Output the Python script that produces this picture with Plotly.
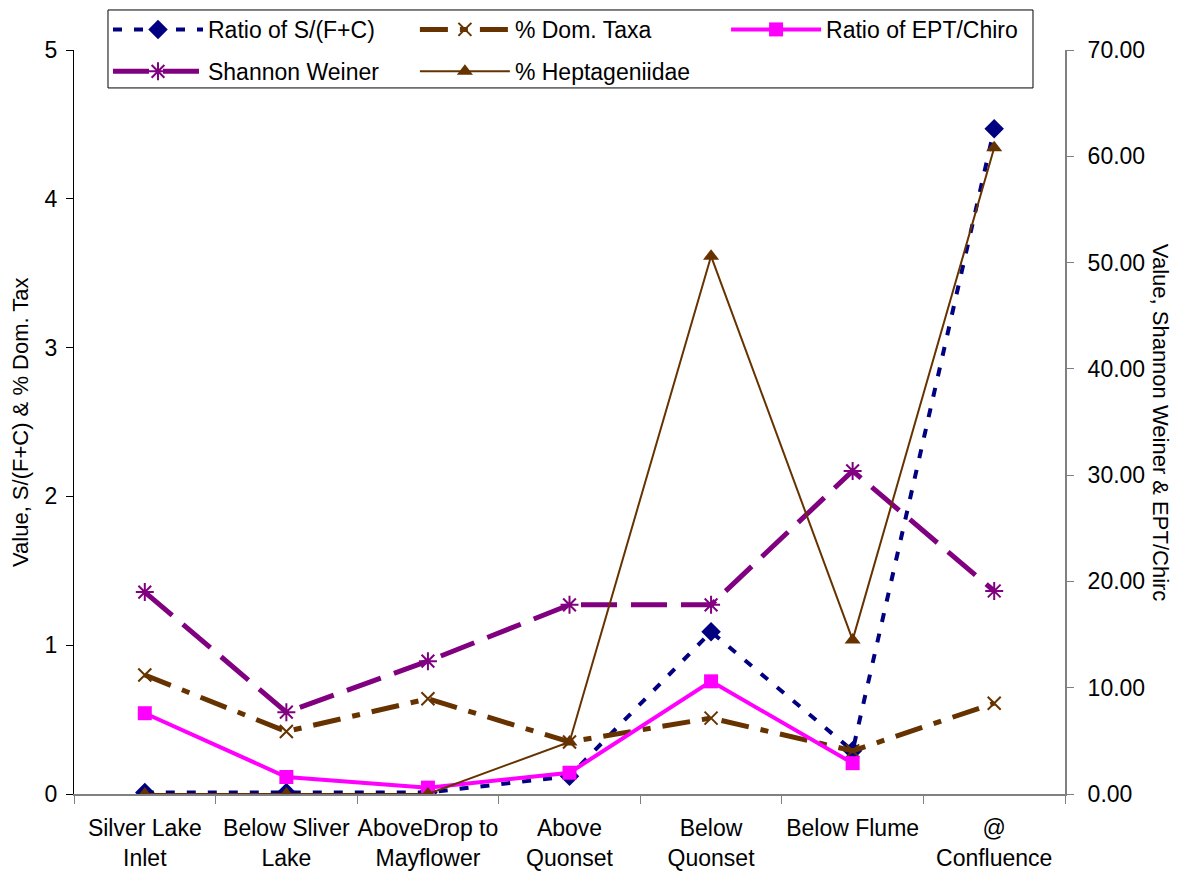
import plotly.graph_objects as go

# Sampling sites along the creek
sites = ["Silver Lake<br>Inlet", "Below Sliver<br>Lake", "AboveDrop to<br>Mayflower",
         "Above<br>Quonset", "Below<br>Quonset", "Below Flume", "@<br>Confluence"]

# Left-axis metrics
ratio_sfc = [0.01, 0.01, 0.01, 0.12, 1.09, 0.29, 4.47]
dom_taxa = [0.80, 0.42, 0.64, 0.35, 0.51, 0.29, 0.61]

# Right-axis metrics
ept_chiro = [7.6, 1.6, 0.6, 2.0, 10.6, 2.9, None]
shannon = [19.0, 7.7, 12.5, 17.8, 17.8, 30.4, 19.1]
heptageniidae = [0.0, 0.0, 0.0, 4.9, 50.6, 14.5, 60.8]

FONT = "Liberation Sans, Arial, sans-serif"
FS = 23
BROWN = "#663300"

fig = go.Figure()

fig.add_trace(go.Scatter(
    x=sites, y=ratio_sfc, name="Ratio of S/(F+C)", mode="lines+markers",
    line=dict(color="#000080", width=4, dash="9px,12px"),
    marker=dict(symbol="diamond", size=15, color="#000080"),
    yaxis="y", legend="legend", legendgroup="a", legendrank=1))

fig.add_trace(go.Scatter(
    x=sites, y=dom_taxa, name="% Dom. Taxa", mode="lines+markers",
    line=dict(color=BROWN, width=5, dash="28px,12px,8px,12px"),
    marker=dict(symbol="x-thin", size=13, color=BROWN,
                line=dict(color=BROWN, width=2)),
    yaxis="y", legend="legend2", legendgroup="b", legendrank=1))

fig.add_trace(go.Scatter(
    x=sites, y=ept_chiro, name="Ratio of EPT/Chiro", mode="lines+markers",
    line=dict(color="#FF00FF", width=4),
    marker=dict(symbol="square", size=14, color="#FF00FF"),
    yaxis="y2", legend="legend3", legendgroup="c", legendrank=1))

fig.add_trace(go.Scatter(
    x=sites, y=shannon, name="Shannon Weiner", mode="lines+markers",
    line=dict(color="#800080", width=5, dash="36px,14px"),
    marker=dict(symbol="asterisk-open", size=15, color="#800080",
                line=dict(color="#800080", width=2)),
    yaxis="y2", legend="legend", legendgroup="d", legendrank=2))

fig.add_trace(go.Scatter(
    x=sites, y=heptageniidae, name="% Heptageniidae", mode="lines+markers",
    line=dict(color=BROWN, width=2),
    marker=dict(symbol="triangle-up", size=14, color=BROWN),
    yaxis="y2", legend="legend2", legendgroup="e", legendrank=2))

legend_common = dict(
    orientation="v", y=1.0565, xanchor="left", yanchor="top",
    bgcolor="rgba(0,0,0,0)", borderwidth=0,
    font=dict(family=FONT, size=FS), itemwidth=90, tracegroupgap=9,
)

fig.update_layout(
    width=1184, height=878,
    margin=dict(l=74, r=119, t=50, b=84, autoexpand=False),
    paper_bgcolor="white", plot_bgcolor="white",
    font=dict(family=FONT, size=FS, color="black"),
    showlegend=True,
    legend=dict(x=0.0343, **legend_common),
    legend2=dict(x=0.344, **legend_common),
    legend3=dict(x=0.658, **legend_common),
    shapes=[dict(type="rect", xref="paper", yref="paper",
                 x0=0.0343, x1=0.9677, y0=0.949, y1=1.0538,
                 line=dict(color="black", width=1), fillcolor="white",
                 layer="below")],
    xaxis=dict(
        type="category", range=[-0.5, 6.5], showgrid=False, automargin=False,
        showline=True, linecolor="#808080", linewidth=2,
        ticks="outside", tickson="boundaries", ticklen=8, tickcolor="#808080",
        tickangle=0, ticklabelstandoff=12, tickfont=dict(family=FONT, size=FS),
    ),
    yaxis=dict(
        range=[0, 5], dtick=1, showgrid=False, zeroline=False, automargin=False,
        showline=True, linecolor="black", linewidth=1,
        ticks="outside", ticklen=7, tickcolor="black", ticklabelstandoff=4,
        tickfont=dict(family=FONT, size=FS),
    ),
    yaxis2=dict(
        range=[0, 70], dtick=10, tickformat=".2f", overlaying="y", side="right",
        showgrid=False, zeroline=False, automargin=False,
        showline=True, linecolor="#808080", linewidth=2,
        ticks="outside", ticklen=7, tickcolor="#808080", ticklabelstandoff=9,
        tickfont=dict(family=FONT, size=FS),
    ),
    annotations=[
        dict(text="Value, S/(F+C) & % Dom. Tax", xref="paper", yref="paper",
             x=-0.0545, y=0.5, xanchor="center", yanchor="middle",
             textangle=-90, showarrow=False, font=dict(family=FONT, size=FS - 1)),
        dict(text="Value, Shannon Weiner & EPT/Chirc", xref="paper", yref="paper",
             x=1.097, y=0.5, xanchor="center", yanchor="middle",
             textangle=90, showarrow=False, font=dict(family=FONT, size=FS - 1)),
    ],
)

fig.write_html("out.html")
